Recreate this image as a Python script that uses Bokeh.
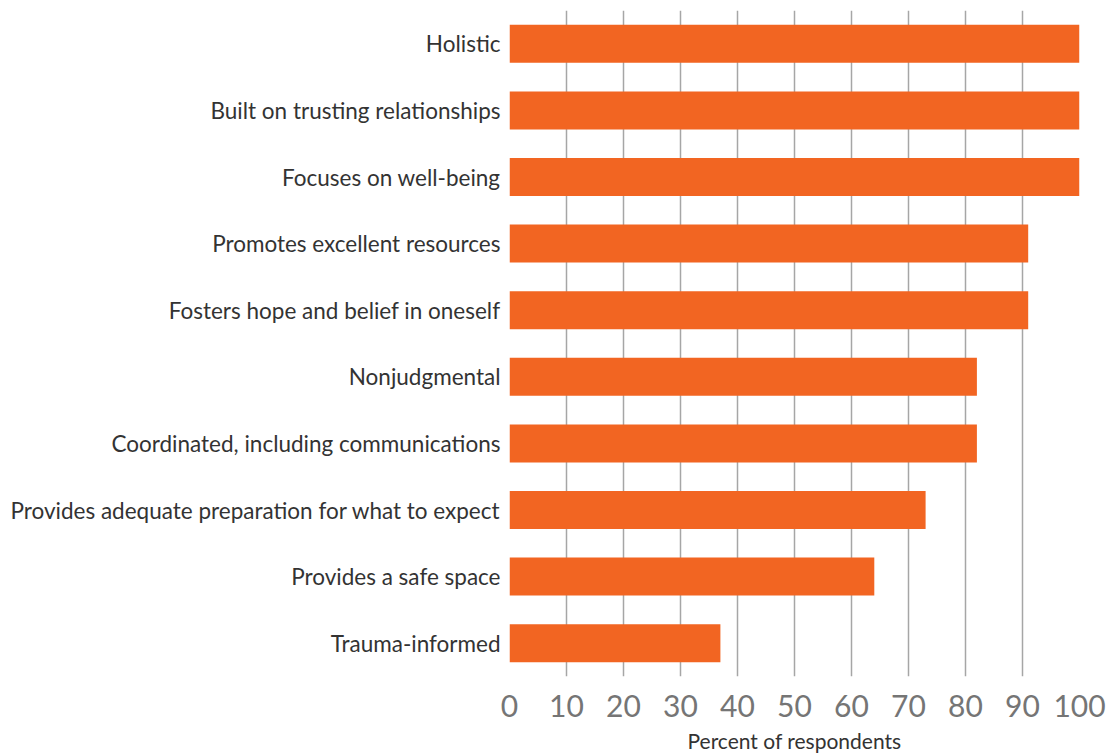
from bokeh.plotting import figure
from bokeh.models import Range1d
from bokeh.embed import file_html
from bokeh.resources import INLINE

categories = [
    "Holistic",
    "Built on trusting relationships",
    "Focuses on well-being",
    "Promotes excellent resources",
    "Fosters hope and belief in oneself",
    "Nonjudgmental",
    "Coordinated, including communications",
    "Provides adequate preparation for what to expect",
    "Provides a safe space",
    "Trauma-informed",
]
values = [100, 100, 100, 91, 91, 82, 82, 73, 64, 37]
x_ticks = [0, 10, 20, 30, 40, 50, 60, 70, 80, 90, 100]

FONT = "Lato"

p = figure(
    y_range=list(reversed(categories)),
    x_range=Range1d(0, 100),
    width=1110,
    height=755,
    min_border_left=509,
    min_border_right=31,
    min_border_top=10,
    min_border_bottom=73,
    output_backend="svg",
    toolbar_location=None,
)
p.hbar(y=categories, right=values, left=0, height=0.57, color="#F26522", line_color=None)

p.outline_line_color = None
p.background_fill_color = "white"

# x axis
p.xaxis.ticker = x_ticks
p.xaxis.axis_line_color = None
p.xaxis.major_tick_line_color = None
p.xaxis.minor_tick_line_color = None
p.xaxis.major_label_text_font = FONT
p.xaxis.major_label_text_font_size = "30px"
p.xaxis.major_label_text_color = "#757575"
p.xaxis.major_label_standoff = 12
p.xaxis.axis_label = "Percent of respondents"
p.xaxis.axis_label_text_font = FONT
p.xaxis.axis_label_text_font_size = "21px"
p.xaxis.axis_label_text_font_style = "normal"
p.xaxis.axis_label_text_color = "#333333"
p.xaxis.axis_label_standoff = 8

# y axis
p.yaxis.axis_line_color = None
p.yaxis.major_tick_line_color = None
p.yaxis.minor_tick_line_color = None
p.yaxis.major_label_text_font = FONT
p.yaxis.major_label_text_font_size = "22.5px"
p.yaxis.major_label_text_color = "#333333"
p.yaxis.major_label_standoff = 3

# grid
p.xgrid.grid_line_color = "#A6A6A6"
p.xgrid.grid_line_width = 1.5
p.ygrid.grid_line_color = None

open("out.html", "w").write(file_html(p, INLINE))
